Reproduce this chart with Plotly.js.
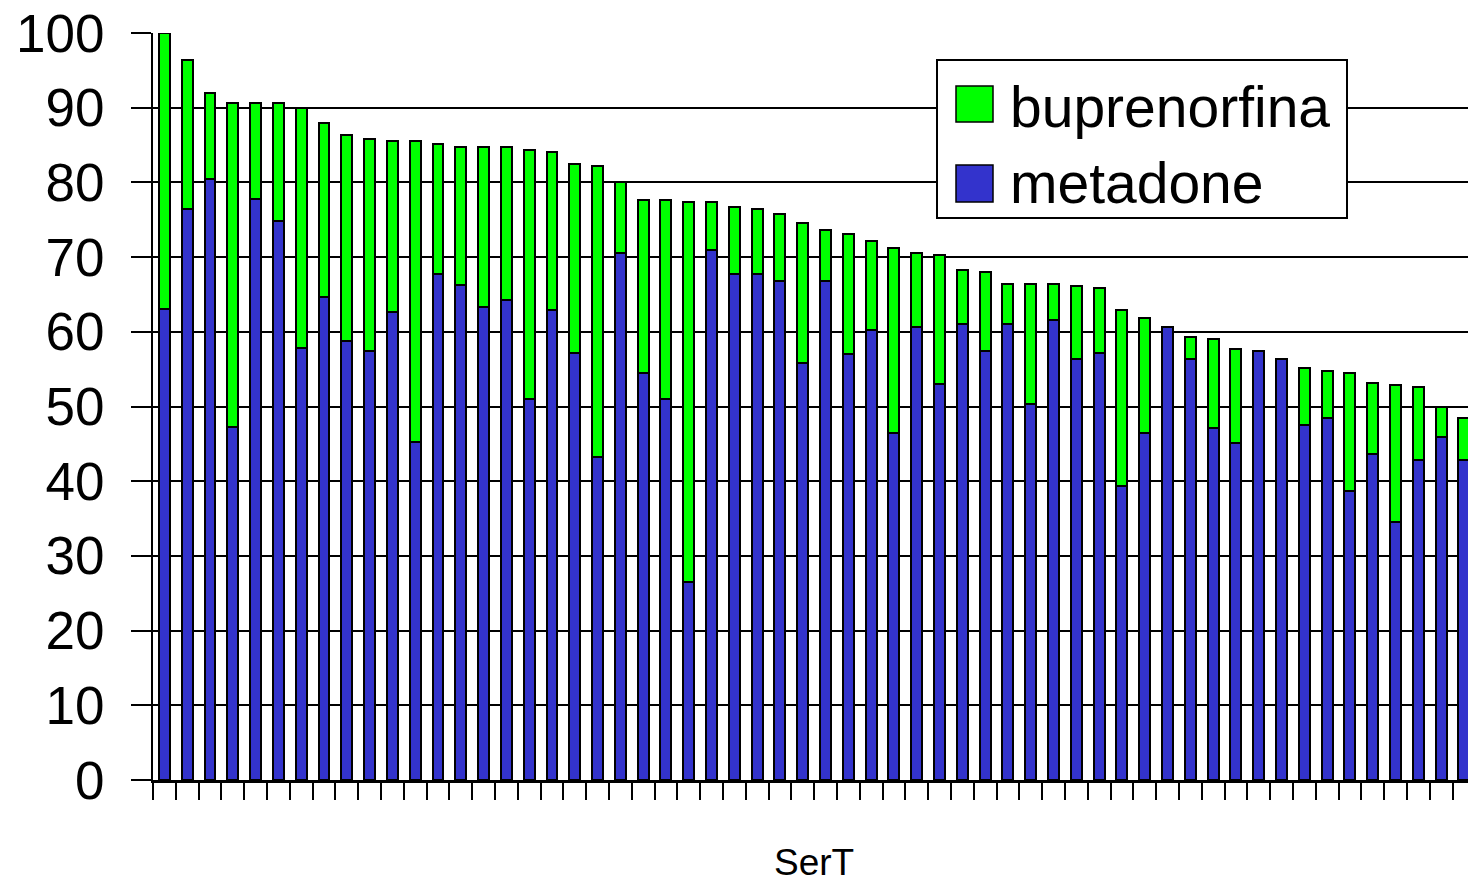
<!DOCTYPE html>
<html>
<head>
<meta charset="utf-8">
<script src="https://cdn.plot.ly/plotly-3.0.1.min.js"></script>
<style>
  html, body { margin: 0; padding: 0; background: #ffffff; }
  #chart { width: 1468px; height: 885px; }
</style>
</head>
<body>
<div id="chart"></div>
<script>
// Categories (services, unlabeled in the original)
const categories = [
  "S1","S2","S3","S4","S5","S6","S7","S8","S9","S10",
  "S11","S12","S13","S14","S15","S16","S17","S18","S19","S20",
  "S21","S22","S23","S24","S25","S26","S27","S28","S29","S30",
  "S31","S32","S33","S34","S35","S36","S37","S38","S39","S40",
  "S41","S42","S43","S44","S45","S46","S47","S48","S49","S50",
  "S51","S52","S53","S54","S55","S56","S57","S58"
];

// metadone (bottom segment)
const metadone = [
  63.0, 76.5, 80.4, 47.2, 77.8, 74.9, 57.8, 64.6, 58.8, 57.4,
  62.6, 45.2, 67.8, 66.2, 63.3, 64.2, 51.0, 62.9, 57.1, 43.2,
  70.6, 54.5, 51.0, 26.5, 70.9, 67.8, 67.8, 66.8, 55.8, 66.8,
  57.0, 60.3, 46.5, 60.6, 53.0, 61.0, 57.4, 61.0, 50.3, 61.6,
  56.4, 57.1, 39.3, 46.5, 60.6, 56.4, 47.1, 45.1, 57.4, 56.4,
  47.5, 48.4, 38.7, 43.6, 34.5, 42.9, 45.9, 42.9
];

// buprenorfina (top segment)
const buprenorfina = [
  37.0, 19.9, 11.6, 43.4, 12.8, 15.7, 32.1, 23.4, 27.6, 28.4,
  22.9, 40.3, 17.4, 18.6, 21.5, 20.6, 33.4, 21.2, 25.4, 39.0,
   9.4, 23.2, 26.7, 50.9,  6.5,  8.9,  8.7,  9.0, 18.7,  6.8,
  16.1, 11.9, 24.7, 10.0, 17.3,  7.3, 10.6,  5.4, 16.1,  4.8,
   9.7,  8.7, 23.6, 15.4,  0.0,  2.9, 11.9, 12.6,  0.0,  0.0,
   7.6,  6.4, 15.8,  9.6, 18.4,  9.7,  4.1,  5.5
];

const yTickValues = [0, 10, 20, 30, 40, 50, 60, 70, 80, 90, 100];
const seriesNames = ["metadone", "buprenorfina"];
const seriesColors = ["#3333CC", "#00FF00"];
const xAxisTitle = "SerT";

const FONT = "Liberation Sans, Arial, sans-serif";

const traces = [
  {
    type: "bar",
    name: seriesNames[0],
    x: categories,
    y: metadone,
    marker: { color: seriesColors[0], line: { color: "#000000", width: 2 } },
    showlegend: false,
    hoverinfo: "x+y+name"
  },
  {
    type: "bar",
    name: seriesNames[1],
    x: categories,
    y: buprenorfina,
    marker: { color: seriesColors[1], line: { color: "#000000", width: 2 } },
    showlegend: false,
    hoverinfo: "x+y+name"
  }
];

// Plot area in pixels: x 153..1468, y 33..780
const L = 153, R = 1468, T = 33, B = 780;
const px = v => (v - L) / (R - L);
const py = v => (B - v) / (B - T);

const layout = {
  width: 1468,
  height: 885,
  margin: { l: L, r: 1468 - R, t: T, b: 885 - B, pad: 0 },
  paper_bgcolor: "#ffffff",
  plot_bgcolor: "#ffffff",
  barmode: "stack",
  bargap: 0.52,
  showlegend: false,
  font: { family: FONT, color: "#000000" },
  xaxis: {
    type: "category",
    range: [-0.5, 57.18],
    showgrid: false,
    zeroline: false,
    showline: true,
    linecolor: "#000000",
    linewidth: 2.5,
    ticks: "outside",
    tickson: "boundaries",
    ticklen: 17,
    tickwidth: 2,
    tickcolor: "#000000",
    showticklabels: false,
    automargin: false
  },
  yaxis: {
    range: [0, 100],
    tickvals: yTickValues,
    ticktext: yTickValues.map(String),
    showgrid: true,
    gridcolor: "#000000",
    gridwidth: 2,
    zeroline: false,
    showline: true,
    linecolor: "#000000",
    linewidth: 2,
    ticks: "outside",
    ticklen: 20,
    tickwidth: 2,
    tickcolor: "#000000",
    ticklabelstandoff: 16,
    tickfont: { family: FONT, size: 53, color: "#000000" },
    automargin: false
  },
  shapes: [
    { type: "rect", xref: "paper", yref: "paper", x0: px(937), x1: px(1347), y0: py(218), y1: py(60),
      fillcolor: "#ffffff", line: { color: "#000000", width: 2 }, layer: "above" },
    { type: "rect", xref: "paper", yref: "paper", x0: px(956), x1: px(993), y0: py(122), y1: py(86),
      fillcolor: seriesColors[1], line: { color: "#000000", width: 1.5 }, layer: "above" },
    { type: "rect", xref: "paper", yref: "paper", x0: px(956), x1: px(993), y0: py(202), y1: py(165),
      fillcolor: seriesColors[0], line: { color: "#000000", width: 1.5 }, layer: "above" }
  ],
  annotations: [
    { xref: "paper", yref: "paper", x: px(1008), y: py(107), xanchor: "left", yanchor: "middle",
      text: seriesNames[1], showarrow: false, font: { family: FONT, size: 57, color: "#000000" } },
    { xref: "paper", yref: "paper", x: px(1008), y: py(183), xanchor: "left", yanchor: "middle",
      text: seriesNames[0], showarrow: false, font: { family: FONT, size: 57, color: "#000000" } },
    { xref: "paper", yref: "paper", x: px(814), y: py(884), xanchor: "center", yanchor: "bottom",
      borderpad: 0, text: xAxisTitle, showarrow: false, font: { family: FONT, size: 37, color: "#000000" } }
  ]
};

Plotly.newPlot("chart", traces, layout, { displayModeBar: false, staticPlot: true });
</script>
</body>
</html>
